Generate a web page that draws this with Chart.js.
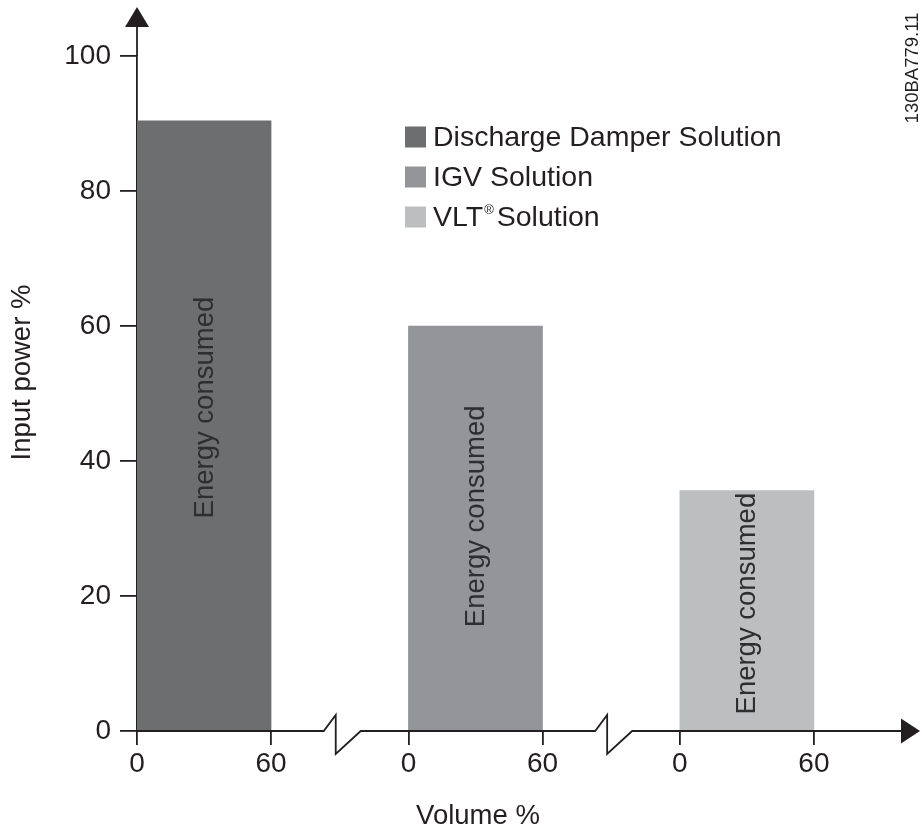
<!DOCTYPE html>
<html>
<head>
<meta charset="utf-8">
<script src="https://cdn.jsdelivr.net/npm/chart.js@4.4.1/dist/chart.umd.min.js"></script>
<style>
  html, body { margin: 0; padding: 0; background: #ffffff; }
  #wrap { width: 921px; height: 832px; }
</style>
</head>
<body>
<div id="wrap"><canvas id="c" width="921" height="832"></canvas></div>
<script>
// ---- data ----
const solutions = ['Discharge Damper Solution', 'IGV Solution', 'VLT® Solution'];
const inputPower = [90.4, 60, 35.6];          // Input power % per solution
const segmentStart = [0, 121.5, 243];          // start of each volume segment on the broken x axis
const volumeTicks = [0, 60];                   // volume % ticks inside each segment
const tickLabels = ['0', '60', '0', '60', '0', '60'];
const yTicks = [0, 20, 40, 60, 80, 100];
const xMax = 342;
const barColors = ['#6d6e70', '#939598', '#bcbec0'];
const barText = 'Energy consumed';
const xTitle = 'Volume %';
const yTitle = 'Input power %';
const docId = '130BA779.11';

const INK = '#231f20';
const FONT = '"Liberation Sans", Arial, Helvetica, sans-serif';

const xTickValues = [];
segmentStart.forEach(s => volumeTicks.forEach(v => xTickValues.push(s + v)));
const volumeSpan = volumeTicks[volumeTicks.length - 1];

const decorPlugin = {
  id: 'decor',
  afterDraw(chart) {
    const { ctx, chartArea } = chart;
    const xs = chart.scales.x, ys = chart.scales.y;
    const axisY = ys.getPixelForValue(0);
    ctx.save();
    ctx.strokeStyle = INK;
    ctx.fillStyle = INK;
    ctx.lineWidth = 1.8;

    // broken x axis
    ctx.beginPath();
    ctx.moveTo(chartArea.left, axisY);
    for (let i = 0; i < segmentStart.length - 1; i++) {
      const g0 = xs.getPixelForValue(segmentStart[i] + volumeSpan);
      const g1 = xs.getPixelForValue(segmentStart[i + 1]);
      const c = (g0 + g1) / 2;
      ctx.lineTo(c - 16, axisY);
      ctx.lineTo(c - 4, axisY - 16);
      ctx.lineTo(c - 4, axisY + 23);
      ctx.lineTo(c + 21, axisY);
    }
    ctx.lineTo(chartArea.right, axisY);
    ctx.stroke();
    // x arrow
    ctx.beginPath();
    ctx.moveTo(chartArea.right, axisY - 12.5);
    ctx.lineTo(chartArea.right + 19, axisY);
    ctx.lineTo(chartArea.right, axisY + 12.5);
    ctx.closePath();
    ctx.fill();

    // y axis extension + arrow
    const yTop = ys.getPixelForValue(100);
    ctx.beginPath();
    ctx.moveTo(chartArea.left, yTop);
    ctx.lineTo(chartArea.left, yTop - 30);
    ctx.stroke();
    ctx.beginPath();
    ctx.moveTo(chartArea.left - 12, yTop - 29);
    ctx.lineTo(chartArea.left + 12, yTop - 29);
    ctx.lineTo(chartArea.left, yTop - 49);
    ctx.closePath();
    ctx.fill();

    // axis titles
    ctx.font = '27.5px ' + FONT;
    ctx.fillStyle = INK;
    ctx.textAlign = 'center';
    ctx.textBaseline = 'middle';
    ctx.fillText(xTitle, (chartArea.left + chartArea.right) / 2 - 41, 816);
    ctx.save();
    ctx.translate(22, (chartArea.top + chartArea.bottom) / 2 - 21);
    ctx.rotate(-Math.PI / 2);
    ctx.fillText(yTitle, 0, 0);
    ctx.restore();

    // "Energy consumed" inside bars
    const meta = chart.getDatasetMeta(0);
    ctx.font = '27.5px ' + FONT;
    ctx.fillStyle = '#2e2e30';
    meta.data.forEach((bar, i) => {
      const cy = ys.getPixelForValue(inputPower[i] * 0.53);
      ctx.save();
      ctx.translate(bar.x, cy);
      ctx.rotate(-Math.PI / 2);
      ctx.fillText(barText, 0, 1);
      ctx.restore();
    });

    // legend
    const lx = 405, ly0 = 137, step = 40;
    ctx.textAlign = 'left';
    solutions.forEach((label, i) => {
      const cy = ly0 + i * step;
      ctx.fillStyle = barColors[i];
      ctx.fillRect(lx, cy - 10.5, 21, 21);
      ctx.fillStyle = INK;
      ctx.font = '28.5px ' + FONT;
      const parts = label.split('®');
      if (parts.length > 1) {
        ctx.fillText(parts[0], 433, cy + 1);
        const w = ctx.measureText(parts[0]).width;
        ctx.font = '13px ' + FONT;
        ctx.fillText('®', 433 + w + 1, cy - 7);
        const w2 = ctx.measureText('®').width;
        ctx.font = '28.5px ' + FONT;
        ctx.fillText(parts[1].trim(), 433 + w + w2 + 4, cy + 1);
      } else {
        ctx.fillText(label, 433, cy + 1);
      }
    });

    // document id
    ctx.save();
    ctx.font = '18.5px ' + FONT;
    ctx.fillStyle = INK;
    ctx.textAlign = 'center';
    ctx.textBaseline = 'middle';
    ctx.translate(913, 68);
    ctx.rotate(-Math.PI / 2);
    ctx.fillText(docId, 0, 0);
    ctx.restore();

    ctx.restore();
  }
};

new Chart(document.getElementById('c'), {
  type: 'bar',
  data: {
    datasets: [{
      label: 'Input power',
      data: solutions.map((s, i) => ({ x: segmentStart[i] + volumeSpan / 2, y: inputPower[i] })),
      backgroundColor: barColors,
      borderWidth: 0,
      categoryPercentage: 1,
      barPercentage: 1,
      grouped: false
    }]
  },
  options: {
    responsive: false,
    animation: false,
    devicePixelRatio: 1,
    layout: { padding: { left: 55.3, top: 56, right: 20, bottom: 49 } },
    plugins: { legend: { display: false }, tooltip: { enabled: false } },
    scales: {
      x: {
        type: 'linear',
        min: 0,
        max: xMax,
        offset: false,
        afterBuildTicks(scale) { scale.ticks = xTickValues.map(v => ({ value: v })); },
        ticks: {
          autoSkip: false,
          maxRotation: 0,
          padding: 5,
          color: INK,
          font: { family: FONT, size: 28, lineHeight: 1 },
          callback: (v, i) => tickLabels[i]
        },
        grid: { display: true, offset: false, drawOnChartArea: false, drawTicks: true, tickLength: 14, color: INK, lineWidth: 1.8 },
        border: { display: false },
        title: { display: false }
      },
      y: {
        min: 0,
        max: 100,
        afterBuildTicks(scale) { scale.ticks = yTicks.map(v => ({ value: v })); },
        ticks: {
          padding: 9,
          color: INK,
          font: { family: FONT, size: 28, lineHeight: 1 }
        },
        grid: { display: true, drawOnChartArea: false, drawTicks: true, tickLength: 17, color: INK, lineWidth: 1.8 },
        border: { display: true, color: INK, width: 1.8 },
        title: { display: false }
      }
    }
  },
  plugins: [decorPlugin]
});
</script>
</body>
</html>
